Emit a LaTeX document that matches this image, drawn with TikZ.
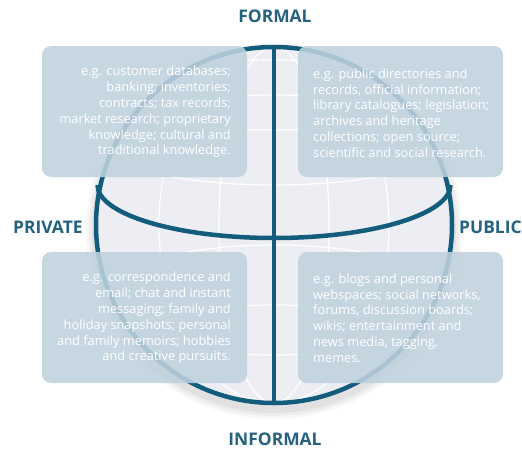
\documentclass[tikz,border=0pt]{standalone}
\usepackage{fontspec}
\setmainfont{Open Sans}
\definecolor{teal1}{HTML}{135C7C}
\definecolor{lab}{HTML}{24627F}
\definecolor{boxc}{HTML}{BFD2DE}
\definecolor{globec}{HTML}{EDEEF4}
\tikzset{
  globeline/.style={draw=teal1,line width=4.5pt},
  gridline/.style={draw=white,line width=1.2pt},
  infobox/.style={fill=boxc,rounded corners=9pt,opacity=0.88},
  infotext/.style={text=white,font=\fontsize{12.8}{15.8}\selectfont,inner sep=0pt},
  axislabel/.style={text=lab,font=\bfseries\fontsize{17.4}{19}\selectfont,inner sep=0pt}
}
\begin{document}
\begin{tikzpicture}[x=1pt,y=-1pt]
\useasboundingbox (0,0) rectangle (522,450);
% shadow
\foreach \r/\o in {188/0.03,185/0.04,182/0.05}{\fill[black,opacity=\o] (274,231) circle (\r);}
\fill[white] (274,225) circle (178);
% globe body
\fill[globec] (274,225) circle (178);
\begin{scope}
\clip (274,225) circle (178);
\foreach \a in {55,115} {\draw[gridline] (274,225) ellipse (\a pt and 178pt);}
\draw[gridline] (274,30) -- (274,420);
\foreach \yy/\bb in {95/35,140/45,300/55,355/50}{\draw[gridline] (274,\yy) ellipse (178pt and \bb pt);}
\end{scope}
% globe outline
\draw[globeline] (274,225) circle (178);
\draw[globeline] (274,47) -- (274,403);
\draw[globeline] (450.5,185) arc[start angle=0,end angle=180,x radius=176.5,y radius=53];
% boxes
\fill[infobox] (42,46) rectangle (247,177);
\fill[infobox] (298,46) rectangle (503,177);
\fill[infobox] (42,252) rectangle (247,383);
\fill[infobox] (298,252) rectangle (503,383);
\node[infotext,anchor=east,align=right] (tl) at (231,112) {e.g. customer databases;\\banking; inventories;\\contracts; tax records;\\market research; proprietary\\knowledge; cultural and\\traditional knowledge.};
\node[infotext,anchor=west,align=left] (tr) at (313,113) {e.g. public directories and\\records, official information;\\library catalogues; legislation;\\archives and heritage\\collections; open source;\\scientific and social research.};
\node[infotext,anchor=east,align=right] (bl) at (231,318) {e.g. correspondence and\\email; chat and instant\\messaging; family and\\holiday snapshots; personal\\and family memoirs; hobbies\\and creative pursuits.};
\node[infotext,anchor=west,align=left] (br) at (313,318) {e.g. blogs and personal\\webspaces; social networks,\\forums, discussion boards;\\wikis; entertainment and\\news media, tagging,\\memes.};
% labels
\node[axislabel] (formal) at (275,16) {FORMAL};
\node[axislabel] (informal) at (275,439) {INFORMAL};
\node[axislabel,anchor=west] (private) at (13,227) {PRIVATE};
\node[axislabel,anchor=west] (public) at (459,227) {PUBLIC};
\end{tikzpicture}
\end{document}
